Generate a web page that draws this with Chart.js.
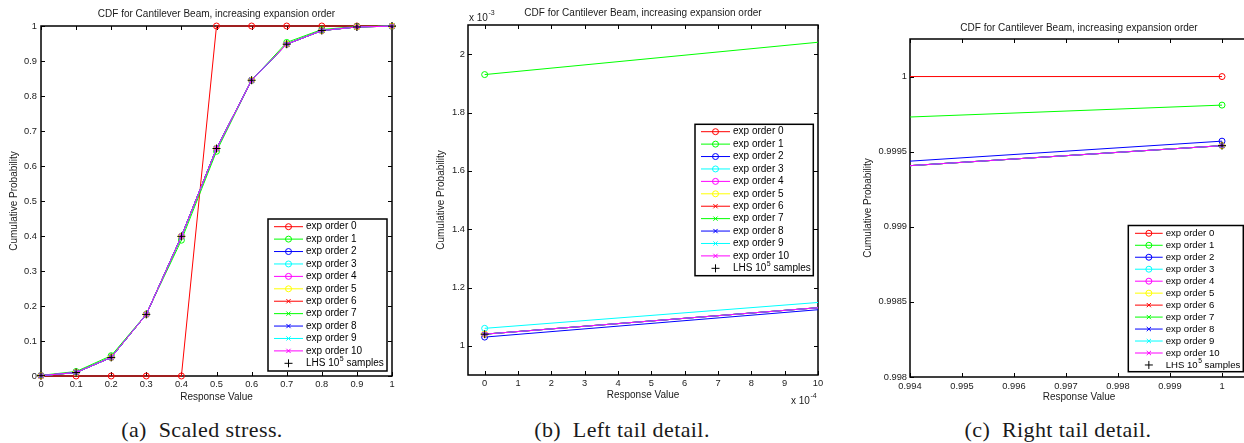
<!DOCTYPE html>
<html>
<head>
<meta charset="utf-8">
<script src="https://cdn.jsdelivr.net/npm/chart.js@4.4.1/dist/chart.umd.min.js"></script>
<style>
  html, body { margin: 0; padding: 0; background: #fff; }
  body { position: relative; width: 1244px; height: 443px; overflow: hidden; }
  canvas { position: absolute; top: 0; }
  .caption {
    position: absolute; top: 419px; width: 300px; text-align: center;
    font: 22px "Liberation Serif", "Times New Roman", serif; line-height: 22px;
    letter-spacing: 0.4px; color: #1a1a1a; white-space: nowrap;
  }
</style>
</head>
<body>
<canvas id="cdfFull" width="420" height="410" style="left:0px"></canvas>
<canvas id="cdfLeft" width="420" height="410" style="left:420px"></canvas>
<canvas id="cdfRight" width="420" height="410" style="left:840px"></canvas>
<div class="caption" style="left:52px">(a)&nbsp; Scaled stress.</div>
<div class="caption" style="left:472px">(b)&nbsp; Left tail detail.</div>
<div class="caption" style="left:908px">(c)&nbsp; Right tail detail.</div>
<script>
var sans = '"Liberation Sans", Arial, Helvetica, sans-serif';
Chart.defaults.font.family = sans;

// response values where the CDF was evaluated
var responseValues = [0, 0.1, 0.2, 0.3, 0.4, 0.5, 0.6, 0.7, 0.8, 0.9, 1];

// cumulative probability for each expansion order
var cdfOrder0 = [0, 0, 0, 0, 0, 1, 1, 1, 1, 1, 1];
var cdfOrder1 = [0.00193, 0.0128, 0.058, 0.177, 0.388, 0.642, 0.845, 0.953, 0.990, 0.99849, 0.99981];
var cdfOrder2 = [0.00103, 0.01023, 0.053, 0.176, 0.399, 0.650, 0.845, 0.948, 0.987, 0.99735, 0.99957];
var cdfOrder3 = [0.00106, 0.00976, 0.053, 0.176, 0.399, 0.650, 0.845, 0.948, 0.987, 0.99732, 0.99954];
var cdfOrder4 = [0.00104, 0.00994, 0.053, 0.176, 0.399, 0.650, 0.845, 0.948, 0.987, 0.99732, 0.99954];
var cdfOrder5 = [0.00104, 0.00994, 0.053, 0.176, 0.399, 0.650, 0.845, 0.948, 0.987, 0.99732, 0.99954];
var cdfOrder6 = [0.00104, 0.00994, 0.053, 0.176, 0.399, 0.650, 0.845, 0.948, 0.987, 0.99732, 0.99954];
var cdfOrder7 = [0.00104, 0.00994, 0.053, 0.176, 0.399, 0.650, 0.845, 0.948, 0.987, 0.99732, 0.99954];
var cdfOrder8 = [0.00104, 0.00994, 0.053, 0.176, 0.399, 0.650, 0.845, 0.948, 0.987, 0.99732, 0.99954];
var cdfOrder9 = [0.00104, 0.00994, 0.053, 0.176, 0.399, 0.650, 0.845, 0.948, 0.987, 0.99732, 0.99954];
var cdfOrder10 = [0.00104, 0.00994, 0.053, 0.176, 0.399, 0.650, 0.845, 0.948, 0.987, 0.99732, 0.99954];
// sampling reference
var cdfLhs = [0.00104, 0.00994, 0.053, 0.176, 0.399, 0.650, 0.845, 0.948, 0.987, 0.99732, 0.99954];

var seriesLabels = ['exp order 0', 'exp order 1', 'exp order 2', 'exp order 3', 'exp order 4',
  'exp order 5', 'exp order 6', 'exp order 7', 'exp order 8', 'exp order 9', 'exp order 10',
  'LHS 10^5 samples'];
var seriesValues = [cdfOrder0, cdfOrder1, cdfOrder2, cdfOrder3, cdfOrder4, cdfOrder5,
  cdfOrder6, cdfOrder7, cdfOrder8, cdfOrder9, cdfOrder10, cdfLhs];
var seriesColors = ['#ff0000', '#00ff00', '#0000ff', '#00ffff', '#ff00ff', '#ffff00',
  '#ff0000', '#00ff00', '#0000ff', '#00ffff', '#ff00ff', '#000000'];

// tick values
var ticksFull = [0, 0.1, 0.2, 0.3, 0.4, 0.5, 0.6, 0.7, 0.8, 0.9, 1];
var ticksLeftX = [0, 0.0001, 0.0002, 0.0003, 0.0004, 0.0005, 0.0006, 0.0007, 0.0008, 0.0009, 0.001];
var ticksLeftY = [0.001, 0.0012, 0.0014, 0.0016, 0.0018, 0.002];
var ticksRightX = [0.994, 0.995, 0.996, 0.997, 0.998, 0.999, 1];
var ticksRightY = [0.998, 0.9985, 0.999, 0.9995, 1];

var plotTitle = 'CDF for Cantilever Beam, increasing expansion order';

function makeDatasets(clip) {
  var last = seriesValues.length - 1;
  return seriesValues.map(function (values, i) {
    var lhs = i === last;
    return {
      label: seriesLabels[i],
      data: values.map(function (v, k) { return {x: responseValues[k], y: v}; }),
      borderColor: seriesColors[i],
      backgroundColor: seriesColors[i],
      pointBorderColor: seriesColors[i],
      pointBackgroundColor: 'rgba(0,0,0,0)',
      borderWidth: 1,
      pointBorderWidth: 1,
      pointStyle: lhs ? 'cross' : (i <= 5 ? 'circle' : 'crossRot'),
      pointRadius: lhs ? 4 : 3,
      showLine: !lhs,
      tension: 0,
      clip: clip,
      // later series are painted over earlier ones
      order: last - i
    };
  });
}

function linearAxis(o) {
  return {
    type: 'linear',
    min: o.min,
    max: o.max,
    grid: {display: false, drawTicks: false},
    border: {display: false},
    afterBuildTicks: function (scale) {
      scale.ticks = o.ticks.map(function (v) { return {value: v}; });
    },
    afterFit: function (scale) {
      if (scale.isHorizontal()) scale.height = o.size; else scale.width = o.size;
    },
    ticks: {
      autoSkip: false, maxRotation: 0, padding: o.labelPad, color: '#1a1a1a',
      font: {size: 9.3}, callback: o.format
    },
    title: {
      display: true, text: o.title, color: '#1a1a1a', font: {size: 10},
      padding: o.titlePad
    }
  };
}

// box around the plot area with inward tick marks on all four sides
var matlabAxes = {
  id: 'matlabAxes',
  beforeDatasetsDraw: function (chart) {
    var ctx = chart.ctx, a = chart.chartArea, sx = chart.scales.x, sy = chart.scales.y;
    ctx.save();
    ctx.strokeStyle = '#000';
    ctx.lineWidth = 1;
    ctx.beginPath();
    sx.ticks.forEach(function (t) {
      var px = Math.round(sx.getPixelForValue(t.value)) + 0.5;
      ctx.moveTo(px, a.bottom); ctx.lineTo(px, a.bottom - 4);
      ctx.moveTo(px, a.top); ctx.lineTo(px, a.top + 4);
    });
    sy.ticks.forEach(function (t) {
      var py = Math.round(sy.getPixelForValue(t.value)) + 0.5;
      ctx.moveTo(a.left, py); ctx.lineTo(a.left + 4, py);
      ctx.moveTo(a.right, py); ctx.lineTo(a.right - 4, py);
    });
    ctx.stroke();
    ctx.lineWidth = 1.5;
    ctx.strokeRect(a.left, a.top, a.right - a.left, a.bottom - a.top);
    ctx.restore();
  }
};

function drawMarker(ctx, style, x, y, r, color) {
  ctx.strokeStyle = color;
  ctx.lineWidth = 1;
  ctx.beginPath();
  if (style === 'circle') {
    ctx.arc(x, y, r, 0, Math.PI * 2);
  } else if (style === 'crossRot') {
    var d = r * Math.SQRT1_2;
    ctx.moveTo(x - d, y - d); ctx.lineTo(x + d, y + d);
    ctx.moveTo(x - d, y + d); ctx.lineTo(x + d, y - d);
  } else {
    ctx.moveTo(x - r, y); ctx.lineTo(x + r, y);
    ctx.moveTo(x, y - r); ctx.lineTo(x, y + r);
  }
  ctx.stroke();
}

// framed legend inside the axes
var boxLegend = {
  id: 'boxLegend',
  afterDraw: function (chart, args, o) {
    var ctx = chart.ctx;
    ctx.save();
    ctx.fillStyle = '#fff';
    ctx.fillRect(o.left, o.top, o.right - o.left, o.bottom - o.top);
    ctx.strokeStyle = '#000';
    ctx.lineWidth = 1.5;
    ctx.strokeRect(o.left, o.top, o.right - o.left, o.bottom - o.top);
    ctx.textBaseline = 'middle';
    chart.data.datasets.forEach(function (ds, i) {
      var y = o.firstRow + i * o.rowGap;
      var mid = (o.lineStart + o.lineEnd) / 2;
      if (ds.showLine) {
        ctx.strokeStyle = ds.borderColor;
        ctx.lineWidth = 1;
        ctx.beginPath();
        ctx.moveTo(o.lineStart, y); ctx.lineTo(o.lineEnd, y);
        ctx.stroke();
      }
      drawMarker(ctx, ds.pointStyle, mid, y, ds.pointRadius, ds.pointBorderColor);
      // "^" marks a one-character superscript
      ctx.fillStyle = '#000';
      ctx.font = o.fontSize + 'px ' + sans;
      var m = ds.label.match(/^(.*)\^(\S)(.*)$/);
      if (!m) {
        ctx.fillText(ds.label, o.textX, y);
      } else {
        var x = o.textX;
        ctx.fillText(m[1], x, y);
        x += ctx.measureText(m[1]).width;
        ctx.font = (o.fontSize * 0.7) + 'px ' + sans;
        ctx.fillText(m[2], x + 0.5, y - 4);
        x += ctx.measureText(m[2]).width + 0.5;
        ctx.font = o.fontSize + 'px ' + sans;
        ctx.fillText(m[3], x, y);
      }
    });
    ctx.restore();
  }
};

// "x 10^n" multipliers next to the axes
var axisExponent = {
  id: 'axisExponent',
  afterDraw: function (chart, args, o) {
    if (!o.marks) return;
    var ctx = chart.ctx;
    ctx.save();
    ctx.fillStyle = '#1a1a1a';
    ctx.textBaseline = 'middle';
    o.marks.forEach(function (mk) {
      ctx.font = '10px ' + sans;
      ctx.fillText('x 10', mk.x, mk.y);
      var w = ctx.measureText('x 10').width;
      ctx.font = '7px ' + sans;
      ctx.fillText(mk.exp, mk.x + w + 0.5, mk.y - 5);
    });
    ctx.restore();
  }
};

function makeChart(id, c) {
  return new Chart(document.getElementById(id), {
    type: 'line',
    data: {datasets: makeDatasets(c.clip)},
    plugins: [matlabAxes, boxLegend, axisExponent],
    options: {
      responsive: false,
      animation: false,
      events: [],
      layout: {padding: {left: 0, right: c.padRight, top: 0, bottom: 0}},
      scales: {x: c.x, y: c.y},
      plugins: {
        legend: {display: false},
        tooltip: {enabled: false},
        title: {
          display: true, text: plotTitle, fullSize: false, color: '#1a1a1a',
          font: {size: 10, weight: 'normal'}, padding: c.titlePad
        },
        boxLegend: c.legend,
        axisExponent: {marks: c.exponents}
      }
    }
  });
}

var oneDecimal = function (v) { return String(+v.toFixed(1)); };

var chartFull = makeChart('cdfFull', {
  clip: 6,
  padRight: 28,
  titlePad: {top: 8, bottom: 6},
  x: linearAxis({min: 0, max: 1, ticks: ticksFull, size: 34, labelPad: 3,
    title: 'Response Value', titlePad: {top: 0, bottom: 7}, format: oneDecimal}),
  y: linearAxis({min: 0, max: 1, ticks: ticksFull, size: 41, labelPad: 4,
    title: 'Cumulative Probability', titlePad: {top: 8, bottom: 0}, format: oneDecimal}),
  legend: {left: 268, top: 219, right: 387, bottom: 371, firstRow: 226.7, rowGap: 12.42,
    lineStart: 274, lineEnd: 303, textX: 306, fontSize: 10}
});

var chartLeft = makeChart('cdfLeft', {
  clip: 0,
  padRight: 22,
  titlePad: {top: 7, bottom: 6},
  x: linearAxis({min: -0.00005, max: 0.001, ticks: ticksLeftX, size: 35, labelPad: 3,
    title: 'Response Value', titlePad: {top: 0, bottom: 9},
    format: function (v) { return String(Math.round(v * 1e4)); }}),
  y: linearAxis({min: 0.0009, max: 0.0021, ticks: ticksLeftY, size: 48, labelPad: 3,
    title: 'Cumulative Probability', titlePad: {top: 15, bottom: 0},
    format: function (v) { return String(+(v * 1e3).toFixed(1)); }}),
  legend: {left: 275, top: 124.3, right: 393.3, bottom: 275.7, firstRow: 131.7, rowGap: 12.42,
    lineStart: 281, lineEnd: 310, textX: 313, fontSize: 10},
  exponents: [{x: 49, y: 18, exp: '-3'}, {x: 371, y: 401, exp: '-4'}]
});

var chartRight = makeChart('cdfRight', {
  clip: 0,
  padRight: 12,
  titlePad: {top: 22, bottom: 5},
  x: linearAxis({min: 0.994, max: 1.0005, ticks: ticksRightX, size: 33, labelPad: 4,
    title: 'Response Value', titlePad: {top: 0, bottom: 7},
    format: function (v) { return String(+v.toFixed(3)); }}),
  y: linearAxis({min: 0.998, max: 1.00025, ticks: ticksRightY, size: 70, labelPad: 3,
    title: 'Cumulative Probability', titlePad: {top: 22, bottom: 0},
    format: function (v) { return String(+v.toFixed(4)); }}),
  legend: {left: 288.3, top: 225.5, right: 403.3, bottom: 371.7, firstRow: 233.3, rowGap: 11.97,
    lineStart: 295, lineEnd: 322.7, textX: 325.7, fontSize: 9.6}
});
</script>
</body>
</html>
